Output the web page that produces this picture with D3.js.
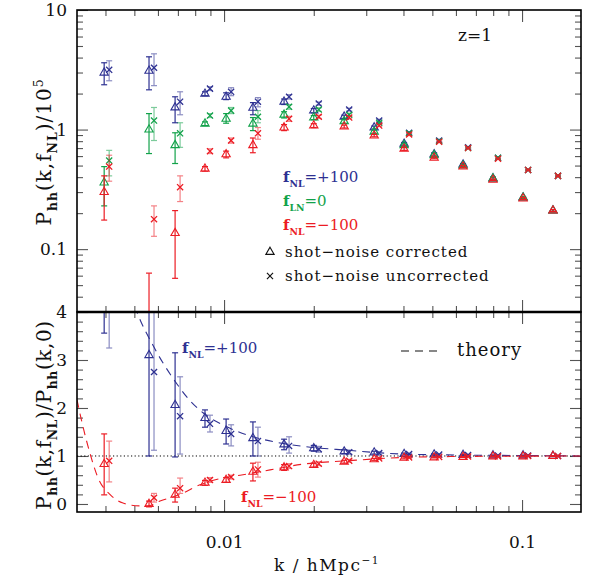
<!DOCTYPE html>
<html>
<head>
<meta charset="utf-8">
<script src="https://cdn.jsdelivr.net/npm/d3@7"></script>
<style>
  body { margin: 0; background: #fff; }
  svg { font-family: 'DejaVu Serif', serif; }
</style>
</head>
<body>
<svg id="chart" width="601" height="576"></svg>
<script>
// k bins (h/Mpc)
const kBins = [0.00396, 0.0056, 0.00685, 0.00863, 0.01016, 0.0125, 0.0159, 0.02, 0.0253, 0.0319, 0.0402, 0.0507, 0.0634, 0.0799, 0.1008, 0.127]

// top panel: P_hh / 1e5, [value, low, high]
const topPlusCorr = [[2.99,2.37,3.62],[3.10,2.15,4.06],[1.53,1.14,1.88],[1.99,1.92,2.07],[1.88,1.78,2.03],[1.52,1.33,1.68],[1.71,1.62,1.80],[1.44,1.38,1.50],[1.28,1.24,1.32],[1.04,1.01,1.07],[0.76,0.74,0.78],[0.62,0.60,0.64],[0.51,0.50,0.52],[0.39,0.38,0.40],[0.27,0.265,0.275],[0.21,0.206,0.214]]
const topPlusRaw = [[3.16,2.56,3.76],[3.29,2.33,4.30],[1.71,1.33,2.07],[2.20,2.12,2.28],[2.07,1.92,2.24],[1.71,1.55,1.85],[1.88,1.80,1.96],[1.65,1.60,1.70],[1.47,1.43,1.51],[1.19,1.16,1.22],[0.94,0.92,0.96],[0.81,0.79,0.83],[0.71,0.70,0.72],[0.58,0.57,0.59],[0.46,0.455,0.465],[0.41,0.405,0.415]]
const topZeroCorr = [[0.36,0.23,0.49],[1.00,0.63,1.36],[0.74,0.52,0.94],[1.12,1.08,1.16],[1.23,1.13,1.36],[1.12,0.98,1.26],[1.33,1.25,1.41],[1.26,1.21,1.31],[1.17,1.13,1.21],[0.96,0.93,0.99],[0.74,0.72,0.76],[0.61,0.59,0.63],[0.50,0.49,0.51],[0.39,0.38,0.40],[0.27,0.265,0.275],[0.21,0.206,0.214]]
const topZeroRaw = [[0.55,0.41,0.67],[1.19,0.81,1.53],[0.93,0.71,1.14],[1.31,1.26,1.36],[1.44,1.36,1.53],[1.28,1.14,1.44],[1.55,1.48,1.62],[1.47,1.42,1.52],[1.33,1.29,1.37],[1.14,1.11,1.17],[0.93,0.91,0.95],[0.80,0.78,0.82],[0.70,0.69,0.71],[0.58,0.57,0.59],[0.46,0.455,0.465],[0.41,0.405,0.415]]
const topMinusCorr = [[0.30,0.175,0.41],[0.02,0.005,0.063],[0.136,0.057,0.21],[0.47,0.45,0.49],[0.62,0.58,0.66],[0.74,0.64,0.85],[1.04,0.98,1.10],[1.08,1.04,1.12],[1.06,1.03,1.09],[0.89,0.87,0.91],[0.69,0.67,0.71],[0.58,0.57,0.59],[0.49,0.48,0.50],[0.38,0.375,0.385],[0.265,0.26,0.27],[0.21,0.206,0.214]]
const topMinusRaw = [[0.49,0.37,0.61],[0.178,0.128,0.23],[0.33,0.25,0.41],[0.66,0.63,0.69],[0.81,0.77,0.85],[0.93,0.83,1.04],[1.23,1.17,1.29],[1.28,1.24,1.32],[1.26,1.23,1.29],[1.08,1.06,1.10],[0.91,0.89,0.93],[0.79,0.78,0.80],[0.70,0.69,0.71],[0.57,0.565,0.575],[0.46,0.455,0.465],[0.41,0.405,0.415]]

// bottom panel: ratio to fNL=0, [value, low, high]
const ratioPlusCorr = [[8.3,3.56,13],[3.10,1.00,5.5],[2.06,0.98,3.15],[1.79,1.60,1.96],[1.52,1.25,1.77],[1.37,1.00,1.71],[1.24,1.13,1.35],[1.16,1.10,1.22],[1.09,1.05,1.13],[1.07,1.04,1.10],[1.04,1.02,1.06],[1.03,1.015,1.045],[1.02,1.01,1.03],[1.01,1.0,1.02],[1.01,1.0,1.02],[1.0,0.995,1.005]]
const ratioPlusRaw = [[5.7,3.25,8],[2.75,1.12,5],[1.83,1.04,2.65],[1.67,1.50,1.85],[1.46,1.21,1.65],[1.31,1.00,1.60],[1.21,1.06,1.40],[1.14,1.08,1.20],[1.08,1.04,1.12],[1.06,1.03,1.09],[1.04,1.02,1.06],[1.03,1.015,1.045],[1.02,1.01,1.03],[1.01,1.0,1.02],[1.01,1.0,1.02],[1.0,0.995,1.005]]
const ratioMinusCorr = [[0.83,0.19,1.46],[0.0,-0.06,0.06],[0.19,0.04,0.33],[0.44,0.39,0.49],[0.50,0.45,0.55],[0.67,0.48,0.85],[0.76,0.70,0.82],[0.81,0.77,0.85],[0.88,0.85,0.91],[0.93,0.91,0.95],[0.96,0.94,0.98],[0.97,0.96,0.98],[0.98,0.97,0.99],[0.99,0.98,1.0],[0.99,0.98,1.0],[1.0,0.995,1.005]]
const ratioMinusRaw = [[0.90,0.46,1.31],[0.13,0.04,0.22],[0.33,0.22,0.54],[0.50,0.45,0.55],[0.56,0.52,0.60],[0.72,0.56,0.87],[0.79,0.74,0.84],[0.84,0.80,0.88],[0.90,0.87,0.93],[0.95,0.93,0.97],[0.97,0.95,0.99],[0.98,0.97,0.99],[0.99,0.98,1.0],[0.99,0.98,1.0],[1.0,0.99,1.01],[1.0,0.995,1.005]]

// theory curves
const theoryPlusK = [0.00484, 0.0051, 0.00578, 0.00695, 0.00769, 0.0085, 0.01047, 0.01542, 0.01841, 0.02587, 0.0399, 0.0619, 0.0985, 0.1577]
const theoryPlus = [4.4, 4.0, 3.3, 2.5, 2.15, 1.9, 1.58, 1.27, 1.2, 1.12, 1.04, 1.02, 1.01, 1.0]
const theoryMinusK = [0.00321, 0.003365, 0.003551, 0.003773, 0.004139, 0.00458, 0.005222, 0.005646, 0.006099, 0.007116, 0.008303, 0.009696, 0.01132, 0.01427, 0.01841, 0.02587, 0.0399, 0.0619, 0.1577]
const theoryMinus = [2.17, 1.6, 1.05, 0.55, 0.2, 0.02, -0.04, -0.03, 0.06, 0.2, 0.4, 0.53, 0.6, 0.71, 0.83, 0.9, 0.97, 0.99, 1.0]

// tick labels
const xMajor = [0.01, 0.1]
const xLabels = ['0.01', '0.1']
const topMajor = [0.1, 1, 10]
const topLabels = ['0.1', '1', '10']
const botMajor = [0, 1, 2, 3, 4]

const blue = '#2e3192'
const green = '#12a24a'
const red = '#ec1c24'

let pLeft = 77, pRight = 581, pTop = 10, pMid = 312, pBottom = 512
let svg = d3.select('#chart')

let x = d3.scaleLog().domain([0.00321, 0.1577]).range([pLeft, pRight])
let yTop = d3.scaleLog().domain([0.0298, 10]).range([pMid, pTop])
let yBot = d3.scaleLinear().domain([-0.167, 4]).range([pBottom, pMid])

let xMinor = []
;[0.001, 0.01, 0.1].forEach(d => { for (let i = 2; i < 10; i++) xMinor.push(d * i) })
xMinor = xMinor.filter(d => d > 0.00321 && d < 0.1577)
let topMinor = []
;[0.01, 0.1, 1].forEach(d => { for (let i = 2; i < 10; i++) topMinor.push(d * i) })
topMinor = topMinor.filter(d => d > 0.0298)
let botMinor = d3.range(1, 20).map(d => d * 0.2).filter(d => Math.abs(d - Math.round(d)) > 0.01)

svg.append('rect').attr('width', 601).attr('height', 576).attr('fill', '#fff')

let defs = svg.append('defs')
defs.append('clipPath').attr('id', 'clipTop').append('rect')
  .attr('x', pLeft).attr('y', pTop).attr('width', pRight - pLeft).attr('height', pMid - pTop)
defs.append('clipPath').attr('id', 'clipBot').append('rect')
  .attr('x', pLeft).attr('y', pMid).attr('width', pRight - pLeft).attr('height', pBottom - pMid)

function ticks(axis, pos, values, size, labels) {
  let g = svg.append('g')
    .attr('transform', pos)
    .call(axis
      .tickValues(values)
      .tickSizeInner(-size)
      .tickSizeOuter(0)
      .tickPadding(labels ? 10 : 0)
      .tickFormat((d, i) => labels ? labels[i] : ''))
  g.select('.domain').remove()
  g.selectAll('.tick line').attr('stroke', '#555').attr('stroke-width', 1.1)
  g.selectAll('text').attr('fill', '#111').attr('font-size', 17)
    .attr('font-family', "'DejaVu Serif', serif")
  return g
}

// x ticks on every horizontal edge
ticks(d3.axisTop(x), `translate(0,${pTop})`, xMajor, 12)
ticks(d3.axisTop(x), `translate(0,${pTop})`, xMinor, 6)
ticks(d3.axisBottom(x), `translate(0,${pMid})`, xMajor, 12)
ticks(d3.axisBottom(x), `translate(0,${pMid})`, xMinor, 6)
ticks(d3.axisTop(x), `translate(0,${pMid})`, xMajor, 12)
ticks(d3.axisTop(x), `translate(0,${pMid})`, xMinor, 6)
let xb = ticks(d3.axisBottom(x), `translate(0,${pBottom})`, xMajor, 12, xLabels)
xb.selectAll('text').attr('y', 24)
ticks(d3.axisBottom(x), `translate(0,${pBottom})`, xMinor, 6)

// y ticks, top panel
ticks(d3.axisLeft(yTop), `translate(${pLeft},0)`, topMajor, 11, topLabels)
ticks(d3.axisLeft(yTop), `translate(${pLeft},0)`, topMinor, 6)
ticks(d3.axisRight(yTop), `translate(${pRight},0)`, topMajor, 11)
ticks(d3.axisRight(yTop), `translate(${pRight},0)`, topMinor, 6)

// y ticks, bottom panel
ticks(d3.axisLeft(yBot), `translate(${pLeft},0)`, botMajor, 11, botMajor.map(String))
ticks(d3.axisLeft(yBot), `translate(${pLeft},0)`, botMinor, 6)
ticks(d3.axisRight(yBot), `translate(${pRight},0)`, botMajor, 11)
ticks(d3.axisRight(yBot), `translate(${pRight},0)`, botMinor, 6)

// unity line
svg.append('line')
  .attr('x1', pLeft).attr('x2', pRight)
  .attr('y1', yBot(1)).attr('y2', yBot(1))
  .attr('stroke', '#000').attr('stroke-width', 1)
  .attr('stroke-dasharray', '1.2,2.4')

let gTop = svg.append('g').attr('clip-path', 'url(#clipTop)')
let gBot = svg.append('g').attr('clip-path', 'url(#clipBot)')

// theory
let line = d3.line().x(d => x(d[0])).y(d => yBot(d[1])).curve(d3.curveMonotoneX)
gBot.append('path')
  .attr('d', line(theoryPlusK.map((k, i) => [k, theoryPlus[i]])))
  .attr('fill', 'none').attr('stroke', blue).attr('stroke-width', 1.1)
  .attr('stroke-dasharray', '8,6')
gBot.append('path')
  .attr('d', line(theoryMinusK.map((k, i) => [k, theoryMinus[i]])))
  .attr('fill', 'none').attr('stroke', red).attr('stroke-width', 1.1)
  .attr('stroke-dasharray', '8,6')

let tri = d3.symbol().type(d3.symbolTriangle).size(30)
let cross = d3.symbol().type(d3.symbolTimes).size(26)

function points(g, series, y, color, raw) {
  let dx = raw ? 5 : 0
  let items = g.append('g')
    .selectAll('g')
    .data(series.map((d, i) => ({ k: kBins[i], v: d[0], lo: d[1], hi: d[2] })))
    .enter()
    .append('g')
    .attr('stroke', color)
    .attr('fill', 'none')

  let bars = items.append('g').attr('opacity', raw ? 0.55 : 1).attr('stroke-width', 1.2)
  bars.append('line')
    .attr('x1', d => x(d.k) + dx).attr('x2', d => x(d.k) + dx)
    .attr('y1', d => y(d.lo)).attr('y2', d => y(d.hi))
  bars.append('line')
    .attr('x1', d => x(d.k) + dx - 3).attr('x2', d => x(d.k) + dx + 3)
    .attr('y1', d => y(d.lo)).attr('y2', d => y(d.lo))
  bars.append('line')
    .attr('x1', d => x(d.k) + dx - 3).attr('x2', d => x(d.k) + dx + 3)
    .attr('y1', d => y(d.hi)).attr('y2', d => y(d.hi))

  items.append('path')
    .attr('d', raw ? cross : tri)
    .attr('stroke-width', raw ? 1.3 : 1.1)
    .attr('transform', d => 'translate(' + (x(d.k) + dx) + ',' + y(d.v) + ')')
}

points(gTop, topPlusCorr, yTop, blue, false)
points(gTop, topPlusRaw, yTop, blue, true)
points(gTop, topZeroCorr, yTop, green, false)
points(gTop, topZeroRaw, yTop, green, true)
points(gTop, topMinusCorr, yTop, red, false)
points(gTop, topMinusRaw, yTop, red, true)

points(gBot, ratioPlusCorr, yBot, blue, false)
points(gBot, ratioPlusRaw, yBot, blue, true)
points(gBot, ratioMinusCorr, yBot, red, false)
points(gBot, ratioMinusRaw, yBot, red, true)

// frames
svg.append('rect').attr('x', pLeft).attr('y', pTop).attr('width', pRight - pLeft).attr('height', pMid - pTop)
  .attr('fill', 'none').attr('stroke', '#000').attr('stroke-width', 1.6)
svg.append('rect').attr('x', pLeft).attr('y', pMid).attr('width', pRight - pLeft).attr('height', pBottom - pMid)
  .attr('fill', 'none').attr('stroke', '#000').attr('stroke-width', 1.6)
svg.append('line').attr('x1', pLeft).attr('x2', pRight).attr('y1', pMid).attr('y2', pMid)
  .attr('stroke', '#000').attr('stroke-width', 2.6)

// labels helper: parts are [text, kind, bold] with kind '', 'sub', 'sup'
function label(g, parts, size, fill) {
  let t = g.append('text').attr('fill', fill).attr('font-size', size)
  let shift = 0
  parts.forEach(p => {
    let s = t.append('tspan').text(p[0])
    let want = p[1] === 'sub' ? size * 0.3 : p[1] === 'sup' ? -size * 0.4 : 0
    s.attr('dy', want - shift)
    shift = want
    if (p[1] === 'sub') s.attr('font-size', size * 0.62).attr('font-weight', 'bold')
    if (p[1] === 'sup') s.attr('font-size', size * 0.62)
    if (p[2]) s.attr('font-weight', 'bold')
  })
  return t
}

// z = 1
svg.append('text').attr('x', 458).attr('y', 41).attr('font-size', 17).attr('fill', '#111').text('z=1')

// legend
let leg = svg.append('g')
label(leg, [['f', '', true], ['NL', 'sub'], ['=+100', '']], 15, blue).attr('x', 283).attr('y', 182)
label(leg, [['f', '', true], ['LN', 'sub'], ['=0', '']], 15, green).attr('x', 283).attr('y', 206)
label(leg, [['f', '', true], ['NL', 'sub'], ['=\u2212100', '']], 15, red).attr('x', 283).attr('y', 230)
leg.append('path').attr('d', tri).attr('transform', 'translate(270,252)')
  .attr('fill', 'none').attr('stroke', '#111').attr('stroke-width', 1.1)
leg.append('path').attr('d', cross).attr('transform', 'translate(270,276)')
  .attr('fill', 'none').attr('stroke', '#111').attr('stroke-width', 1.2)
leg.append('text').attr('x', 285).attr('y', 257).attr('font-size', 15).attr('letter-spacing', 1)
  .attr('fill', '#111').text('shot\u2212noise corrected')
leg.append('text').attr('x', 285).attr('y', 281).attr('font-size', 15).attr('letter-spacing', 1)
  .attr('fill', '#111').text('shot\u2212noise uncorrected')

// bottom panel annotations
label(svg, [['f', '', true], ['NL', 'sub'], ['=+100', '']], 15, blue).attr('x', 182).attr('y', 353)
label(svg, [['f', '', true], ['NL', 'sub'], ['=\u2212100', '']], 15, red).attr('x', 241).attr('y', 502)
svg.append('line').attr('x1', 401).attr('x2', 437).attr('y1', 351).attr('y2', 351)
  .attr('stroke', '#111').attr('stroke-width', 1.1).attr('stroke-dasharray', '8,6')
svg.append('text').attr('x', 457).attr('y', 356).attr('font-size', 18).attr('letter-spacing', 1)
  .attr('fill', '#111').text('theory')

// axis titles
label(svg, [['k / hMpc', ''], ['\u22121', 'sup']], 17, '#111')
  .attr('text-anchor', 'middle').attr('letter-spacing', 1.5).attr('x', 327).attr('y', 571)

label(svg, [['P', ''], ['hh', 'sub'], ['(k,f', ''], ['NL', 'sub'], [')/10', ''], ['5', 'sup']], 20, '#111')
  .attr('text-anchor', 'middle').attr('letter-spacing', 1)
  .attr('transform', 'translate(51,152) rotate(-90)')
label(svg, [['P', ''], ['hh', 'sub'], ['(k,f', ''], ['NL', 'sub'], [')/P', ''], ['hh', 'sub'], ['(k,0)', '']], 20, '#111')
  .attr('text-anchor', 'middle').attr('letter-spacing', 0.6)
  .attr('transform', 'translate(51,415) rotate(-90)')
</script>
</body>
</html>
